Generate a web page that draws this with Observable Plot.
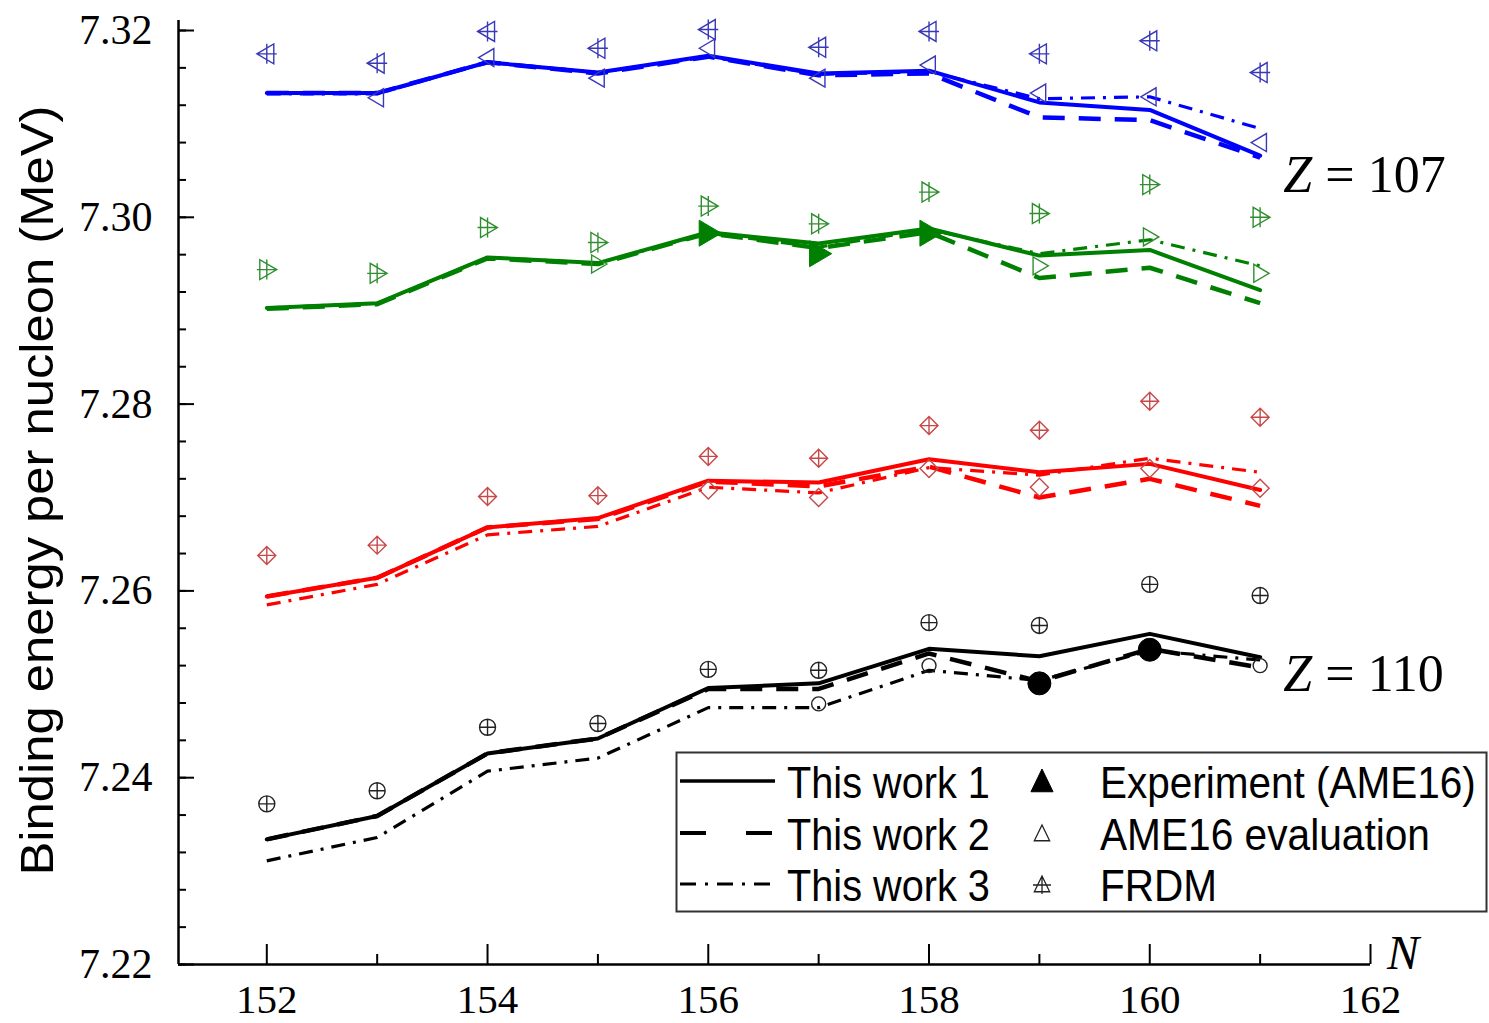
<!DOCTYPE html>
<html>
<head>
<meta charset="utf-8">
<script src="https://cdn.jsdelivr.net/npm/d3@7"></script>
<script src="https://cdn.jsdelivr.net/npm/@observablehq/plot@0.6"></script>
<style>
  html, body { margin: 0; padding: 0; background: #fff; }
  #chart { width: 1489px; height: 1023px; }
</style>
</head>
<body>
<div id="chart"></div>
<script>
// Neutron numbers
const N = [152, 153, 154, 155, 156, 157, 158, 159, 160, 161];

// Z = 107 (blue)
const z107Work1 = [7.3133, 7.3133, 7.3166, 7.3155, 7.3173, 7.3154, 7.3157, 7.3123, 7.3115, 7.3066];
const z107Work2 = [7.3133, 7.3133, 7.3166, 7.3154, 7.3172, 7.3152, 7.3154, 7.3107, 7.3104, 7.3064];
const z107Work3 = [7.3132, 7.3132, 7.3166, 7.3155, 7.3172, 7.3153, 7.3156, 7.3127, 7.3129, 7.3095];
const z107Ame   = [null, 7.3128, 7.3171, 7.3149, 7.3181, 7.3149, 7.3163, 7.3133, 7.3129, 7.3080];
const z107Exp   = [null, null, null, null, null, null, null, null, null, null];
const z107Frdm  = [7.3175, 7.3165, 7.3199, 7.3181, 7.3201, 7.3182, 7.3199, 7.3175, 7.3189, 7.3155];

// Z = 108 (green)
const z108Work1 = [7.2903, 7.2908, 7.2957, 7.2951, 7.2984, 7.2972, 7.2988, 7.2959, 7.2965, 7.2922];
const z108Work2 = [7.2902, 7.2907, 7.2956, 7.2950, 7.2983, 7.2967, 7.2984, 7.2935, 7.2946, 7.2908];
const z108Work3 = [7.2903, 7.2908, 7.2957, 7.2951, 7.2983, 7.2968, 7.2987, 7.2961, 7.2976, 7.2948];
const z108Ame   = [null, null, null, 7.2950, null, null, null, 7.2948, 7.2979, 7.2940];
const z108Exp   = [null, null, null, null, 7.2983, 7.2961, 7.2983, null, null, null];
const z108Frdm  = [7.2944, 7.2940, 7.2989, 7.2973, 7.3012, 7.2993, 7.3027, 7.3004, 7.3035, 7.3000];

// Z = 109 (red)
const z109Work1 = [7.2594, 7.2614, 7.2668, 7.2678, 7.2718, 7.2716, 7.2741, 7.2727, 7.2736, 7.2708];
const z109Work2 = [7.2594, 7.2614, 7.2668, 7.2677, 7.2717, 7.2712, 7.2733, 7.2700, 7.2720, 7.2691];
const z109Work3 = [7.2585, 7.2607, 7.2660, 7.2669, 7.2711, 7.2705, 7.2732, 7.2724, 7.2742, 7.2727];
const z109Ame   = [null, null, null, null, 7.2708, 7.2700, 7.2731, 7.2711, 7.2731, 7.2710];
const z109Exp   = [null, null, null, null, null, null, null, null, null, null];
const z109Frdm  = [7.2638, 7.2649, 7.2701, 7.2702, 7.2744, 7.2742, 7.2777, 7.2772, 7.2803, 7.2786];

// Z = 110 (black)
const z110Work1 = [7.2334, 7.2359, 7.2426, 7.2442, 7.2496, 7.2501, 7.2538, 7.2530, 7.2554, 7.2529];
const z110Work2 = [7.2334, 7.2359, 7.2426, 7.2442, 7.2495, 7.2495, 7.2533, 7.2503, 7.2538, 7.2518];
const z110Work3 = [7.2311, 7.2336, 7.2407, 7.2421, 7.2475, 7.2475, 7.2515, 7.2504, 7.2536, 7.2526];
const z110Ame   = [null, null, null, null, null, 7.2479, 7.2520, null, null, 7.2520];
const z110Exp   = [null, null, null, null, null, null, null, 7.2501, 7.2537, null];
const z110Frdm  = [7.2372, 7.2386, 7.2454, 7.2458, 7.2516, 7.2515, 7.2566, 7.2563, 7.2607, 7.2595];

// Axis ticks and texts
const xMajorTicks = [152, 154, 156, 158, 160, 162];
const xMinorTicks = [153, 155, 157, 159, 161];
const yMajorTicks = [7.22, 7.24, 7.26, 7.28, 7.30, 7.32];
const yMinorTicks = d3.range(0, 26).map(i => +(7.22 + i * 0.004).toFixed(3));
const yLabel = "Binding energy per nucleon (MeV)";
const modelNames = ["This work 1", "This work 2", "This work 3"];
const refNames = ["Experiment (AME16)", "AME16 evaluation", "FRDM"];

// ---- layout ----
const W = 1489, H = 1023;
const mL = 178, mR = 119, mT = 30, mB = 59;
const xDomain = [151.2, 162], yDomain = [7.22, 7.32];
const plotW = W - mL - mR, plotH = H - mT - mB;
const pxX = px => px * (xDomain[1] - xDomain[0]) / plotW;
const pxY = px => px * (yDomain[1] - yDomain[0]) / plotH;

const dashed = "22,14";
const dashDot = "14,8,3,8";

// marker outlines drawn around the origin; r recovered from Plot's symbol size
function outline(ctx, kind, r) {
  if (kind === "left") {
    ctx.moveTo(-r, 0); ctx.lineTo(0.7 * r, -r); ctx.lineTo(0.7 * r, r); ctx.closePath();
  } else if (kind === "right") {
    ctx.moveTo(r, 0); ctx.lineTo(-0.7 * r, -r); ctx.lineTo(-0.7 * r, r); ctx.closePath();
  } else if (kind === "up") {
    ctx.moveTo(0, -r); ctx.lineTo(0.85 * r, 0.75 * r); ctx.lineTo(-0.85 * r, 0.75 * r); ctx.closePath();
  } else if (kind === "diamond") {
    ctx.moveTo(0, -r); ctx.lineTo(r, 0); ctx.lineTo(0, r); ctx.lineTo(-r, 0); ctx.closePath();
  } else {
    ctx.moveTo(r, 0); ctx.arc(0, 0, r, 0, 2 * Math.PI);
  }
}
function makeSymbol(kind, cross) {
  return {
    draw(ctx, size) {
      const r = Math.sqrt(size / Math.PI);
      outline(ctx, kind, r);
      if (cross) {
        ctx.moveTo(-r, 0); ctx.lineTo(r, 0);
        ctx.moveTo(0, -r); ctx.lineTo(0, r);
      }
    }
  };
}

const groups = [
  {line: "#0000ff", mark: "#3838b8", shape: "left", w: [z107Work1, z107Work2, z107Work3], ame: z107Ame, exp: z107Exp, frdm: z107Frdm, rA: 9, rF: 10, rE: 13},
  {line: "#008000", mark: "#2f8f2f", shape: "right", w: [z108Work1, z108Work2, z108Work3], ame: z108Ame, exp: z108Exp, frdm: z108Frdm, rA: 9, rF: 10, rE: 13},
  {line: "#ff0000", mark: "#c84848", shape: "diamond", w: [z109Work1, z109Work2, z109Work3], ame: z109Ame, exp: z109Exp, frdm: z109Frdm, rA: 9, rF: 9, rE: 12},
  {line: "#000000", mark: "#222222", shape: "circle", w: [z110Work1, z110Work2, z110Work3], ame: z110Ame, exp: z110Exp, frdm: z110Frdm, rA: 7, rF: 8, rE: 11.5}
];

const table = arr => N.map((n, i) => ({n, v: arr[i]})).filter(d => d.v != null);

const marks = [];
for (const g of groups) {
  marks.push(Plot.line(table(g.w[2]), {x: "n", y: "v", stroke: g.line, strokeWidth: 3.2, strokeDasharray: dashDot, strokeLinecap: "butt"}));
  marks.push(Plot.line(table(g.w[1]), {x: "n", y: "v", stroke: g.line, strokeWidth: 4.5, strokeDasharray: dashed, strokeLinecap: "butt"}));
  marks.push(Plot.line(table(g.w[0]), {x: "n", y: "v", stroke: g.line, strokeWidth: 4}));
  marks.push(Plot.dot(table(g.ame), {x: "n", y: "v", symbol: makeSymbol(g.shape, false), r: g.rA, fill: "none", stroke: g.mark, strokeWidth: 1.4}));
  marks.push(Plot.dot(table(g.frdm), {x: "n", y: "v", symbol: makeSymbol(g.shape, true), r: g.rF, fill: "none", stroke: g.mark, strokeWidth: 1.4}));
  marks.push(Plot.dot(table(g.exp), {x: "n", y: "v", symbol: makeSymbol(g.shape, false), r: g.rE, fill: g.line, stroke: g.line, strokeWidth: 1}));
}

const serif = "'Liberation Serif', 'Times New Roman', serif";
const narrow = "'Liberation Sans Narrow', 'Arial Narrow', 'Liberation Sans', Arial, sans-serif";

const chart = Plot.plot({
  width: W,
  height: H,
  marginLeft: mL,
  marginRight: mR,
  marginTop: mT,
  marginBottom: mB,
  style: {fontFamily: serif, fontSize: "42px", background: "#fff", color: "#000"},
  x: {domain: xDomain, label: null},
  y: {domain: yDomain, label: null},
  marks: [
    // axis frame lines
    Plot.ruleY([yDomain[0]], {x1: xDomain[0], x2: xDomain[1], stroke: "#000", strokeWidth: 2.5}),
    Plot.ruleX([xDomain[0]], {y1: yDomain[0], y2: yDomain[1] + pxY(10), stroke: "#000", strokeWidth: 2.5}),
    // inward ticks
    Plot.ruleX(xMajorTicks, {y1: yDomain[0], y2: yDomain[0] + pxY(20), stroke: "#000", strokeWidth: 2}),
    Plot.ruleX(xMinorTicks, {y1: yDomain[0], y2: yDomain[0] + pxY(10), stroke: "#000", strokeWidth: 2}),
    Plot.ruleY(yMinorTicks, {x1: xDomain[0], x2: xDomain[0] + pxX(8), stroke: "#000", strokeWidth: 2}),
    Plot.ruleY(yMajorTicks, {x1: xDomain[0], x2: xDomain[0] + pxX(16), stroke: "#000", strokeWidth: 2}),
    Plot.axisX({ticks: xMajorTicks, tickSize: 0, tickPadding: 19, tickFormat: d => String(d), fontSize: 41, fontFamily: serif}),
    Plot.axisY({ticks: yMajorTicks, tickSize: 0, tickPadding: 26, tickFormat: d3.format(".2f"), fontSize: 42, fontFamily: serif}),
    ...marks,
    // annotations
    Plot.text(["Z"], {x: 161.21, y: 7.3027, text: d => d, textAnchor: "start", lineAnchor: "bottom", fontStyle: "italic", fontSize: 52, fontFamily: serif}),
    Plot.text(["= 107"], {x: 161.21, y: 7.3027, dx: 42, text: d => d, textAnchor: "start", lineAnchor: "bottom", fontSize: 52, fontFamily: serif}),
    Plot.text(["Z"], {x: 161.21, y: 7.2493, text: d => d, textAnchor: "start", lineAnchor: "bottom", fontStyle: "italic", fontSize: 52, fontFamily: serif}),
    Plot.text(["= 110"], {x: 161.21, y: 7.2493, dx: 42, text: d => d, textAnchor: "start", lineAnchor: "bottom", fontSize: 52, fontFamily: serif}),
    Plot.text(["N"], {x: 162.15, y: yDomain[0], dy: 4, text: d => d, textAnchor: "start", lineAnchor: "bottom", fontStyle: "italic", fontSize: 48, fontFamily: serif}),
    Plot.text([yLabel], {frameAnchor: "left", dx: -141, dy: -7, rotate: -90, text: d => d, textAnchor: "middle", lineAnchor: "middle", fontSize: 47, fontFamily: narrow})
  ]
});

document.getElementById("chart").appendChild(chart);

const svg = d3.select(chart);

// serif face for the numeric tick labels
svg.selectAll('g[aria-label="x-axis tick label"], g[aria-label="y-axis tick label"]')
  .style("font-family", serif)
  .selectAll("text").style("font-family", serif);

// stretch the y title to its full length
svg.selectAll("text").filter(function () { return this.textContent === yLabel; })
  .attr("textLength", 770).attr("lengthAdjust", "spacingAndGlyphs");

// legend box
const lg = svg.append("g").attr("class", "legend").attr("text-anchor", "start");
lg.append("rect").attr("x", 676.5).attr("y", 752.5).attr("width", 810).attr("height", 159)
  .attr("fill", "#fff").attr("stroke", "#333").attr("stroke-width", 2);

const rowY = [781, 833, 884];
const lineStyles = [
  {dash: null, sw: 3.5, x2: 775},
  {dash: "26,40", sw: 4, x2: 773},
  {dash: "16,9,3,9", sw: 3, x2: 775}
];
lineStyles.forEach((s, i) => {
  const l = lg.append("line").attr("x1", 680).attr("x2", s.x2).attr("y1", rowY[i]).attr("y2", rowY[i])
    .attr("stroke", "#000").attr("stroke-width", s.sw);
  if (s.dash) l.attr("stroke-dasharray", s.dash);
});

// condensed legend text: horizontally scaled to its target width
function legendText(t, x, y, width) {
  const el = lg.append("text").attr("x", 0).attr("y", 0).text(t)
    .attr("text-anchor", "start")
    .attr("font-family", narrow).attr("font-size", 45).attr("fill", "#000");
  const natural = el.node().getComputedTextLength() || width;
  el.attr("transform", `translate(${x},${y}) scale(${width / natural},1)`);
}
modelNames.forEach((t, i) => legendText(t, 787, rowY[i] + 17, 203));

const legendSymbols = [
  {sym: makeSymbol("up", false), r: 13, fill: "#000", stroke: "#000", sw: 1},
  {sym: makeSymbol("up", false), r: 9, fill: "none", stroke: "#222", sw: 1.3},
  {sym: makeSymbol("up", true), r: 9, fill: "none", stroke: "#222", sw: 1.3}
];
legendSymbols.forEach((s, i) => {
  lg.append("path").attr("transform", `translate(1042,${rowY[i] + 1})`)
    .attr("d", d3.symbol().type(s.sym).size(Math.PI * s.r * s.r)())
    .attr("fill", s.fill).attr("stroke", s.stroke).attr("stroke-width", s.sw);
});
const refWidths = [376, 330, 117];
refNames.forEach((t, i) => legendText(t, 1100, rowY[i] + 17, refWidths[i]));
</script>
</body>
</html>
